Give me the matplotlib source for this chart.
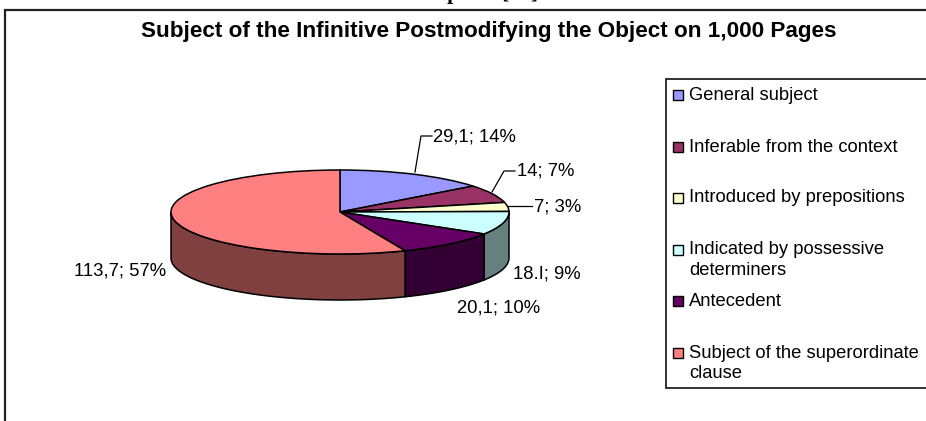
import numpy as np
import matplotlib
matplotlib.use("Agg")
import matplotlib.pyplot as plt
from matplotlib.patches import Rectangle

plt.rcParams['font.family'] = ['Liberation Sans', 'DejaVu Sans']

# data
categories = ["General subject", "Inferable from the context", "Introduced by prepositions",
              "Indicated by possessive\ndeterminers", "Antecedent", "Subject of the superordinate\nclause"]
values = [29.1, 14, 7, 18.1, 20.1, 113.7]
value_labels = ["29,1; 14%", "14; 7%", "7; 3%", "18.I; 9%", "20,1; 10%", "113,7; 57%"]
top_colors = ["#9999FF", "#993366", "#FFFFCC", "#CCFFFF", "#660066", "#FF8080"]
side_colors = ["#4D4D80", "#4D1A33", "#808066", "#668080", "#330033", "#804040"]
title = "Subject of the Infinitive Postmodifying the Object on 1,000 Pages"

W, H = 926, 421
fig = plt.figure(figsize=(W / 100, H / 100), dpi=100)

# background axes in pixel coordinates, for frame, legend and labels
ax = fig.add_axes([0, 0, 1, 1])
ax.set_xlim(0, W)
ax.set_ylim(H, 0)
ax.axis("off")

# clipped line of the page above the chart, only the descenders are visible
ax.text(474, -1, "Graph 11 [19]", family="Liberation Serif", weight="bold", fontsize=15.5,
        ha="center", va="baseline")

ax.plot([5, 5, W], [H, 10, 10], color="#222222", lw=1.6, solid_joinstyle="miter")
ax.text(489, 32, title, weight="bold", fontsize=16.2, ha="center", va="center")

# legend
ax.plot([W, 665.5, 665.5, W], [79, 79, 388, 388], color="#222222", lw=1.3, solid_joinstyle="miter")
legend_y = [94.5, 146.5, 197.5, 249.5, 300.5, 352.5]
for cat, col, y in zip(categories, top_colors, legend_y):
    ax.add_patch(Rectangle((672.5, y - 5), 10, 10, facecolor=col, edgecolor="black", lw=1.0))
    ax.text(689, y - 8, cat, fontsize=13.2, ha="left", va="top", linespacing=1.3)

# pie, stretched to an ellipse, with the wall below it
rx, ry, depth = 169, 42, 46
cx, cy = 340, 212
pie_ax = fig.add_axes([(cx - rx) / W, 1 - (cy + ry + depth) / H, 2 * rx / W, (2 * ry + depth) / H])
pie_ax.patch.set_alpha(0)
wedges, _ = pie_ax.pie(values, colors=top_colors, startangle=90, counterclock=False, radius=1,
                       wedgeprops={"edgecolor": "black", "linewidth": 1.1, "zorder": 3, "clip_on": False})
d = depth / ry
pie_ax.set_aspect("auto")
pie_ax.set_xlim(-1, 1)
pie_ax.set_ylim(-1 - d, 1)
pie_ax.axis("off")

edges = np.cumsum([0] + values) / sum(values) * 360
for i, col in enumerate(side_colors):
    # only the front half of the rim is seen: 90 to 270 degrees clockwise from the top
    a = max(edges[i], 90)
    b = min(edges[i + 1], 270)
    if a >= b:
        continue
    t = np.radians(np.linspace(a, b, 80))
    x = np.sin(t)
    y = np.cos(t)
    pie_ax.fill(np.r_[x, x[::-1]], np.r_[y, y[::-1] - d], facecolor=col, edgecolor="black",
                linewidth=1.1, zorder=2, clip_on=False)

# data labels and leader lines
label_pos = [(433, 137.5, "left"), (517, 171.5, "left"), (534, 206.5, "left"),
             (513, 274, "left"), (457, 308, "left"), (166, 270.5, "right")]
for lab, (x, y, ha) in zip(value_labels, label_pos):
    ax.text(x, y, lab, fontsize=13.3, ha=ha, va="center", zorder=5)
for xs, ys in [([415, 421, 432], [172, 136, 136]), ([492, 504, 515], [192, 171, 171]), ([508, 532], [206, 206])]:
    ax.plot(xs, ys, color="black", lw=0.9, zorder=5)

fig.savefig("out.png", dpi=100)
